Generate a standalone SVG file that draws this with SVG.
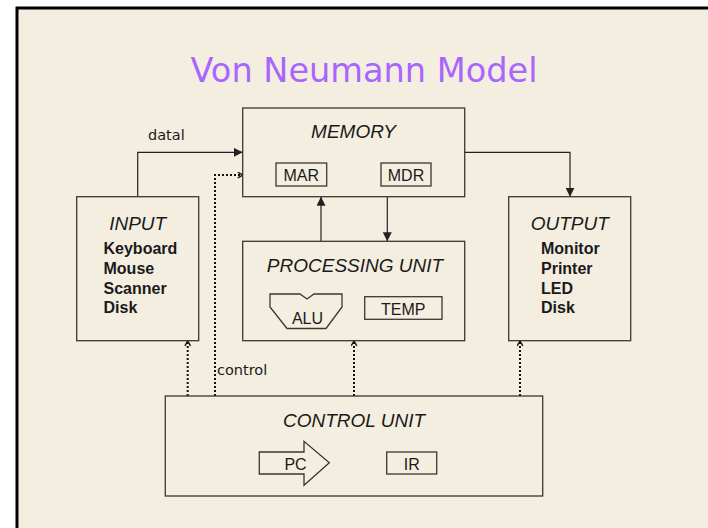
<svg xmlns="http://www.w3.org/2000/svg" width="708" height="528" viewBox="0 0 708 528">
<defs>
<style>
.box{fill:none;stroke:#3a3632;stroke-width:1.3}
.lbl{font-family:"Liberation Sans",Arial,sans-serif;font-size:19px;font-style:italic;fill:#1a1a1a;text-anchor:middle}
.reg{font-family:"Liberation Sans",Arial,sans-serif;font-size:16px;fill:#1a1a1a;text-anchor:middle}
.item{font-family:"Liberation Sans",Arial,sans-serif;font-size:16px;font-weight:bold;fill:#1a1a1a}
.note{font-family:"DejaVu Sans",sans-serif;font-size:14.5px;fill:#1a1a1a}
.solid{fill:none;stroke:#222;stroke-width:1.2}
.dot{fill:none;stroke:#111;stroke-width:2;stroke-dasharray:2 2}
</style>
<marker id="arr" viewBox="0 0 10 10" refX="10" refY="5" markerWidth="9" markerHeight="9" markerUnits="userSpaceOnUse" orient="auto">
<path d="M0,0 L10,5 L0,10 Z" fill="#222"/>
</marker>
<marker id="darr" viewBox="0 0 10 10" refX="9" refY="5" markerWidth="7" markerHeight="7" markerUnits="userSpaceOnUse" orient="auto">
<path d="M2,1 L9,5 L2,9" fill="none" stroke="#111" stroke-width="2"/>
</marker>
</defs>
<rect x="0" y="0" width="708" height="528" fill="#ffffff"/>
<rect x="17" y="8" width="700" height="530" fill="#f4eee0" stroke="#000" stroke-width="3"/>
<text x="364" y="82" font-family="DejaVu Sans, sans-serif" font-size="34" fill="#a866ff" text-anchor="middle" textLength="347" lengthAdjust="spacingAndGlyphs">Von Neumann Model</text>

<g id="connectors">
<polyline class="solid" points="137.7,196.7 137.7,152.3 242.7,152.3" marker-end="url(#arr)"/>
<polyline class="solid" points="464.7,152.3 570,152.3 570,196.7" marker-end="url(#arr)"/>
<line class="solid" x1="387.3" y1="196.7" x2="387.3" y2="241.3" marker-end="url(#arr)"/>
<line class="solid" x1="321" y1="241.3" x2="321" y2="196.7" marker-end="url(#arr)"/>
<polyline class="dot" points="215,396 215,175 242.7,175" marker-end="url(#darr)"/>
<line class="dot" x1="187.7" y1="396" x2="187.7" y2="341" marker-end="url(#darr)"/>
<line class="dot" x1="354" y1="396" x2="354" y2="341" marker-end="url(#darr)"/>
<line class="dot" x1="520" y1="396" x2="520" y2="341" marker-end="url(#darr)"/>
<text class="note" x="148" y="140">datal</text>
<text class="note" x="217" y="375">control</text>
</g>

<g id="memory">
<rect class="box" x="242.7" y="108" width="222" height="88.7"/>
<text class="lbl" x="353.5" y="137.7">MEMORY</text>
<rect class="box" x="276" y="163" width="50.7" height="23"/>
<text class="reg" x="301.3" y="181">MAR</text>
<rect class="box" x="381" y="163" width="50" height="23"/>
<text class="reg" x="406" y="181">MDR</text>
</g>

<g id="input">
<rect class="box" x="76.7" y="196.7" width="122" height="144"/>
<text class="lbl" x="137.7" y="229.5">INPUT</text>
<text class="item" x="103.5" y="254">Keyboard</text>
<text class="item" x="103.5" y="274">Mouse</text>
<text class="item" x="103.5" y="293.5">Scanner</text>
<text class="item" x="103.5" y="313">Disk</text>
</g>

<g id="output">
<rect class="box" x="508.7" y="196.7" width="122" height="144"/>
<text class="lbl" x="569.7" y="230">OUTPUT</text>
<text class="item" x="541" y="254">Monitor</text>
<text class="item" x="541" y="274">Printer</text>
<text class="item" x="541" y="293.5">LED</text>
<text class="item" x="541" y="313">Disk</text>
</g>

<g id="processing">
<rect class="box" x="242.7" y="241.3" width="222" height="99.4"/>
<text class="lbl" x="355" y="271.7">PROCESSING UNIT</text>
<path class="box" d="M270,294 L300,294 L307,299 L314,294 L342,294 L342,307 L326,328.5 L287,328.5 L270,307 Z"/>
<text class="reg" x="307.5" y="324">ALU</text>
<rect class="box" x="364.7" y="296.7" width="77.3" height="22.6"/>
<text class="reg" x="403.3" y="314.5">TEMP</text>
</g>

<g id="control">
<rect class="box" x="165.3" y="396" width="377.4" height="100"/>
<text class="lbl" x="354" y="426.7">CONTROL UNIT</text>
<path class="box" d="M259.3,452 L304,452 L304,441.3 L329.3,462.7 L304,485.3 L304,474 L259.3,474 Z"/>
<text class="reg" x="295.5" y="469.5">PC</text>
<rect class="box" x="386.7" y="452" width="50" height="22"/>
<text class="reg" x="411.7" y="469.5">IR</text>
</g>
</svg>
